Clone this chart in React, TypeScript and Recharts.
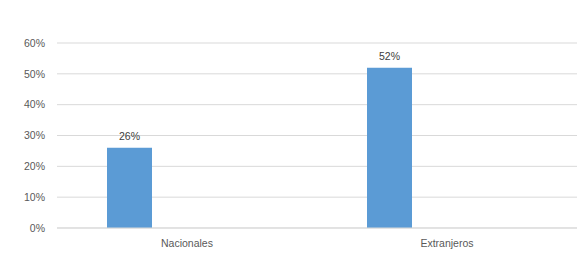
import { BarChart, Bar, XAxis, YAxis, CartesianGrid, LabelList } from 'recharts';

const categories = ['Nacionales', 'Extranjeros'];
const shareValues = [0.26, 0.52];
// the original sheet reserves a second, empty slot beside each bar
const emptyValues = [null, null];
const yTicks = [0, 0.1, 0.2, 0.3, 0.4, 0.5, 0.6];

const data = categories.map((name, i) => ({
  name,
  share: shareValues[i],
  other: emptyValues[i],
}));

const FONT = '"Liberation Sans", Arial, sans-serif';
const pct = (v: number) => `${Math.round(v * 100)}%`;

const App = () => (
  <div style={{ position: 'absolute', left: 0, top: 0, background: '#fff' }}>
    <BarChart
      width={577}
      height={253}
      data={data}
      margin={{ top: 43, right: 0, bottom: 0, left: 0 }}
      barGap={70}
      barSize={45}
    >
      <CartesianGrid vertical={false} stroke='#d9d9d9' />
      <XAxis
        dataKey='name'
        height={25}
        tickLine={false}
        axisLine={{ stroke: '#d9d9d9' }}
        tickSize={0}
        tickMargin={12}
        tick={{ fill: '#595959', fontSize: 10.5, fontFamily: FONT }}
      />
      <YAxis
        width={57}
        domain={[0, 0.6]}
        ticks={yTicks}
        tickFormatter={pct}
        axisLine={false}
        tickLine={false}
        tickSize={0}
        tickMargin={12}
        tick={{ fill: '#595959', fontSize: 10.5, fontFamily: FONT }}
      />
      <Bar dataKey='share' fill='#5b9bd5' isAnimationActive={false}>
        <LabelList
          dataKey='share'
          position='top'
          offset={8}
          formatter={(v: any) => pct(Number(v))}
          style={{ fill: '#404040', fontSize: 10.5, fontFamily: FONT }}
        />
      </Bar>
      <Bar dataKey='other' fill='#ed7d31' isAnimationActive={false} />
    </BarChart>
  </div>
);

export default App;
